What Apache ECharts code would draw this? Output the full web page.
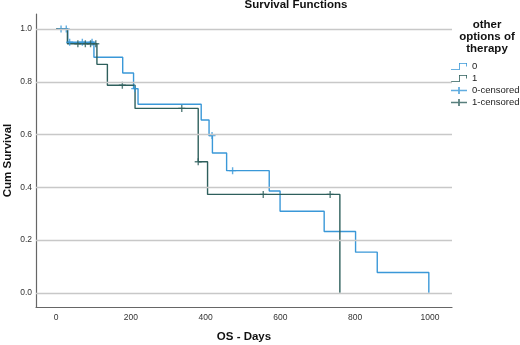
<!DOCTYPE html>
<html>
<head>
<meta charset="utf-8">
<script src="https://cdn.jsdelivr.net/npm/echarts@6/dist/echarts.min.js"></script>
<style>
  html, body { margin: 0; padding: 0; background: #fff; }
  #main { width: 520px; height: 345px; }
</style>
</head>
<body>
<div id="main"></div>
<script>
// tick labels
var xTicks = [0, 200, 400, 600, 800, 1000];
var yTicks = [0, 0.2, 0.4, 0.6, 0.8, 1.0];

// group 0 (blue) - step times / survival
var days0 = [0, 31, 101, 178, 207, 219, 388, 409, 418, 456, 570, 599, 717, 801, 859, 997];
var surv0 = [1, 0.95, 0.893, 0.833, 0.774, 0.715, 0.655, 0.596, 0.53, 0.463, 0.386, 0.309, 0.232, 0.154, 0.077, 0];
// group 1 (dark green)
var days1 = [0, 30, 109, 137, 211, 380, 405, 759];
var surv1 = [1, 0.944, 0.866, 0.787, 0.699, 0.497, 0.373, 0];

// censored marks
var cens0Days = [13, 27, 36, 70, 96, 210, 417, 472];
var cens0Surv = [1, 1, 0.95, 0.95, 0.95, 0.774, 0.596, 0.463];
var cens1Days = [58, 78, 92, 106, 177, 336, 380, 554, 733];
var cens1Surv = [0.944, 0.944, 0.944, 0.944, 0.787, 0.699, 0.497, 0.373, 0.373];

var blue = '#3a98d8';
var green = '#2e5f5c';
var font = 'Liberation Sans, Arial, sans-serif';

function pairs(xs, ys) {
  var out = [];
  for (var i = 0; i < xs.length; i++) out.push([xs[i], ys[i]]);
  return out;
}

var plusPath = 'path://M4,0H6V4H10V6H6V10H4V6H0V4H4Z';
var stepIcon = 'path://M0,9H10V0H20V5H19V1H11V10H0Z';
var censIcon = 'path://M0,4H8V0H10V4H18V6H10V10H8V6H0Z';

var chart = echarts.init(document.getElementById('main'));

var option = {
  animation: false,
  textStyle: { fontFamily: font },
  title: [
    {
      text: 'Survival Functions',
      left: 296, top: -1, textAlign: 'center', padding: 0,
      textStyle: { fontSize: 11.5, fontWeight: 'bold', color: '#111', fontFamily: font }
    },
    {
      text: 'other\noptions of\ntherapy',
      left: 487, top: 19, textAlign: 'center', padding: 0,
      textStyle: { fontSize: 11.5, fontWeight: 'bold', color: '#111', lineHeight: 12, fontFamily: font }
    }
  ],
  legend: {
    orient: 'vertical',
    left: 451, top: 60.5,
    padding: 0,
    itemGap: 0,
    itemWidth: 16, itemHeight: 7,
    symbolKeepAspect: false,
    itemStyle: { borderWidth: 0 },
    textStyle: { fontSize: 9.5, color: '#222', lineHeight: 12, fontFamily: font },
    data: [
      { name: '0', icon: stepIcon },
      { name: '1', icon: stepIcon },
      { name: '0-censored', icon: censIcon },
      { name: '1-censored', icon: censIcon }
    ]
  },
  grid: { left: 36, right: 68, top: 14, bottom: 38, containLabel: false, outerBoundsMode: 'none' },
  xAxis: {
    type: 'value',
    min: -54, max: 1059,
    name: 'OS - Days',
    nameLocation: 'middle',
    nameGap: 24,
    nameMoveOverlap: false,
    nameTextStyle: { fontSize: 11.5, fontWeight: 'bold', color: '#111', fontFamily: font },
    axisLine: { show: true, onZero: false, lineStyle: { color: '#666', width: 1.2 } },
    axisTick: { show: false },
    splitLine: { show: false },
    axisLabel: {
      customValues: xTicks,
      margin: 6,
      fontSize: 8.5, color: '#333', fontFamily: font,
      formatter: function (v) { return String(v); }
    }
  },
  yAxis: {
    type: 'value',
    min: -0.054, max: 1.057,
    name: 'Cum Survival',
    nameLocation: 'middle',
    nameGap: 22,
    nameMoveOverlap: false,
    nameTextStyle: { fontSize: 11.5, fontWeight: 'bold', color: '#111', fontFamily: font },
    axisLine: { show: true, onZero: false, lineStyle: { color: '#666', width: 1.2 } },
    axisTick: { show: false },
    splitLine: { show: false },
    axisLabel: {
      customValues: yTicks,
      margin: 4,
      fontSize: 8.5, color: '#333', fontFamily: font,
      formatter: function (v) { return v.toFixed(1); }
    }
  },
  series: [
    {
      name: 'gridlines',
      type: 'line',
      data: [],
      z: 1,
      silent: true,
      markLine: {
        silent: true,
        symbol: 'none',
        label: { show: false },
        lineStyle: { color: '#c8c8c8', width: 1.3, type: 'solid' },
        data: yTicks.map(function (v) { return { yAxis: v }; })
      }
    },
    {
      name: '0',
      type: 'line',
      step: 'end',
      showSymbol: false,
      z: 3,
      color: blue,
      lineStyle: { color: blue, width: 1.4 },
      data: pairs(days0, surv0)
    },
    {
      name: '1',
      type: 'line',
      step: 'end',
      showSymbol: false,
      z: 3,
      color: green,
      lineStyle: { color: green, width: 1.4 },
      data: pairs(days1, surv1)
    },
    {
      name: '0-censored',
      type: 'scatter',
      symbol: plusPath,
      symbolSize: 7,
      z: 4,
      itemStyle: { color: blue },
      data: pairs(cens0Days, cens0Surv)
    },
    {
      name: '1-censored',
      type: 'scatter',
      symbol: plusPath,
      symbolSize: 7,
      z: 4,
      itemStyle: { color: green },
      data: pairs(cens1Days, cens1Surv)
    }
  ]
};

chart.setOption(option);
</script>
</body>
</html>
